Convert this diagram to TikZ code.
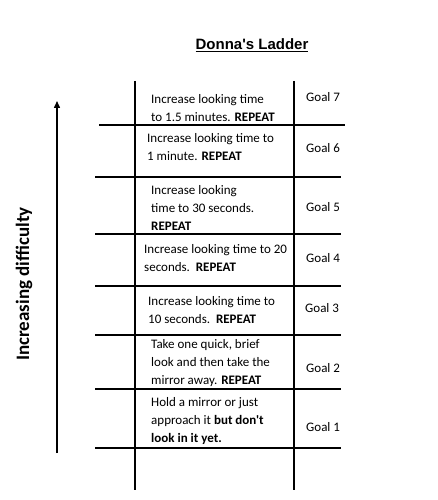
\documentclass[tikz,border=0pt]{standalone}
\usepackage{fontspec}
\newfontfamily\calibri{Carlito}
\newfontfamily\arial{Liberation Sans}
\usetikzlibrary{arrows.meta}

\begin{document}
\begin{tikzpicture}[x=1pt, y=-1pt]

% Set the overall layout of the ladder
\tikzstyle{rail} = [line width=2pt]
\tikzstyle{rung} = [line width=2pt]

% Define styles for the step texts and goals
\tikzstyle{stepbox} = [anchor=west, align=left, inner sep=0pt,
    font=\calibri\fontsize{13}{18}\selectfont]
\tikzstyle{goal} = [anchor=west, inner sep=0pt, font=\calibri\fontsize{13}{15}\selectfont]

\useasboundingbox (0,0) rectangle (437,500);

% Title
\node[font=\arial\bfseries\fontsize{15}{18}\selectfont] (title) at (252,45) {\underline{Donna's Ladder}};

% Rails
\draw[rail] (135,81) -- (135,490);
\draw[rail] (294,81) -- (294,490);

% Rungs, top to bottom
\draw[rung] (99,125) -- (345,125);
\foreach \y in {177,234,286,335,389,448}
    \draw[rung] (95,\y) -- (341,\y);

% Steps, from top to bottom
\node[stepbox] (step7) at (151,108) {Increase looking time\\to 1.5 minutes. \textbf{REPEAT}};
\node[stepbox] (step6) at (147,147) {Increase looking time to\\1 minute. \textbf{REPEAT}};
\node[stepbox] (step5) at (151,208) {Increase looking\\time to 30 seconds.\\\textbf{REPEAT}};
\node[stepbox] (step4) at (144,258) {Increase looking time to 20\\seconds.\ \ \textbf{REPEAT}};
\node[stepbox] (step3) at (148,310) {Increase looking time to\\10 seconds.\ \ \textbf{REPEAT}};
\node[stepbox] (step2) at (151,363) {Take one quick, brief\\look and then take the\\mirror away. \textbf{REPEAT}};
\node[stepbox] (step1) at (151,421) {Hold a mirror or just\\approach it \textbf{but don't}\\\textbf{look in it yet.}};

% Goals
\node[goal] (goal7) at (306,97) {Goal 7};
\node[goal] (goal6) at (306,148) {Goal 6};
\node[goal] (goal5) at (306,207) {Goal 5};
\node[goal] (goal4) at (306,258) {Goal 4};
\node[goal] (goal3) at (305,308) {Goal 3};
\node[goal] (goal2) at (306,368) {Goal 2};
\node[goal] (goal1) at (306,427) {Goal 1};

% Difficulty arrow
\coordinate (easy) at (57,453);
\coordinate (hard) at (57,101);
\draw[line width=1.5pt, -{Triangle[length=7pt,width=6pt]}] (easy) -- (hard);
\node[rotate=90, font=\calibri\bfseries\fontsize{19}{22}\selectfont] (difficulty) at (24,284) {Increasing difficulty};

\end{tikzpicture}
\end{document}
